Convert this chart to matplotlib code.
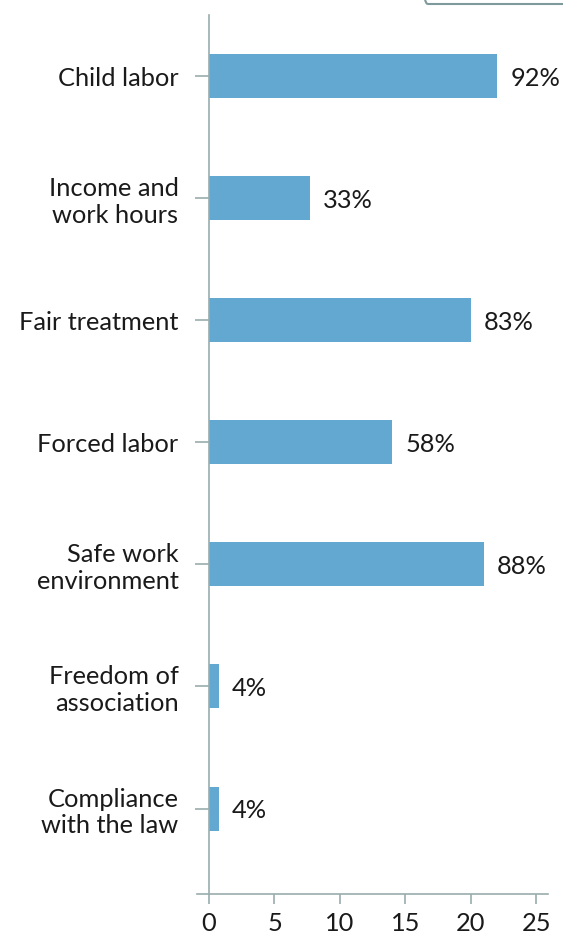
import matplotlib
matplotlib.use("Agg")
import matplotlib.pyplot as plt
from matplotlib.patches import FancyBboxPatch

plt.rcParams['font.family'] = ['Lato', 'DejaVu Sans']

categories = ["Child labor", "Income and\nwork hours", "Fair treatment", "Forced labor",
              "Safe work\nenvironment", "Freedom of\nassociation", "Compliance\nwith the law"]
counts = [22, 7.7, 20, 14, 21, 0.75, 0.75]
pct_labels = ["92%", "33%", "83%", "58%", "88%", "4%", "4%"]
x_ticks = [0, 5, 10, 15, 20, 25]

bar_color = "#62a8d0"
axis_color = "#9aacac"
text_color = "#1a1a1a"
fs = 18.3

fig = plt.figure(figsize=(5.63, 9.34), dpi=100)
ax = fig.add_axes([197 / 563, 1 - 894 / 934, (548 - 197) / 563, (894 - 15) / 934])

ypos = list(range(len(categories)))
ax.barh(ypos, counts, height=0.36, color=bar_color, zorder=2)

for y, v, lab in zip(ypos, counts, pct_labels):
    ax.annotate(lab, (v, y), xytext=(9.5, -1.5), textcoords="offset points",
                ha="left", va="center", fontsize=fs, color=text_color)

ax.set_xlim(-0.92, 25.9)
ax.set_ylim(6.7, -0.5)
ax.set_yticks(ypos)
ax.set_yticklabels(categories, ha="right")
ax.set_xticks(x_ticks)
ax.set_xticklabels([str(t) for t in x_ticks])

for s in ["top", "right"]:
    ax.spines[s].set_visible(False)
ax.spines["left"].set_position(("data", 0))
ax.spines["left"].set_color(axis_color)
ax.spines["bottom"].set_color(axis_color)
ax.spines["left"].set_linewidth(1.2)
ax.spines["bottom"].set_linewidth(1.2)
ax.tick_params(axis="y", length=10, width=1.2, color=axis_color, pad=12,
               labelsize=fs, labelcolor=text_color)
ax.tick_params(axis="x", length=7, width=1.2, color=axis_color, pad=6,
               labelsize=fs, labelcolor=text_color)

# legend frame peeking in at the top right corner
box = FancyBboxPatch((421 / 563, 1 - 4 / 934), 0.4, 0.1,
                     boxstyle="round,pad=0,rounding_size=0.012",
                     transform=fig.transFigure, facecolor="none",
                     edgecolor="#7f9a9a", linewidth=1.5, clip_on=False)
fig.patches.append(box)

fig.savefig("out.png", dpi=100)
